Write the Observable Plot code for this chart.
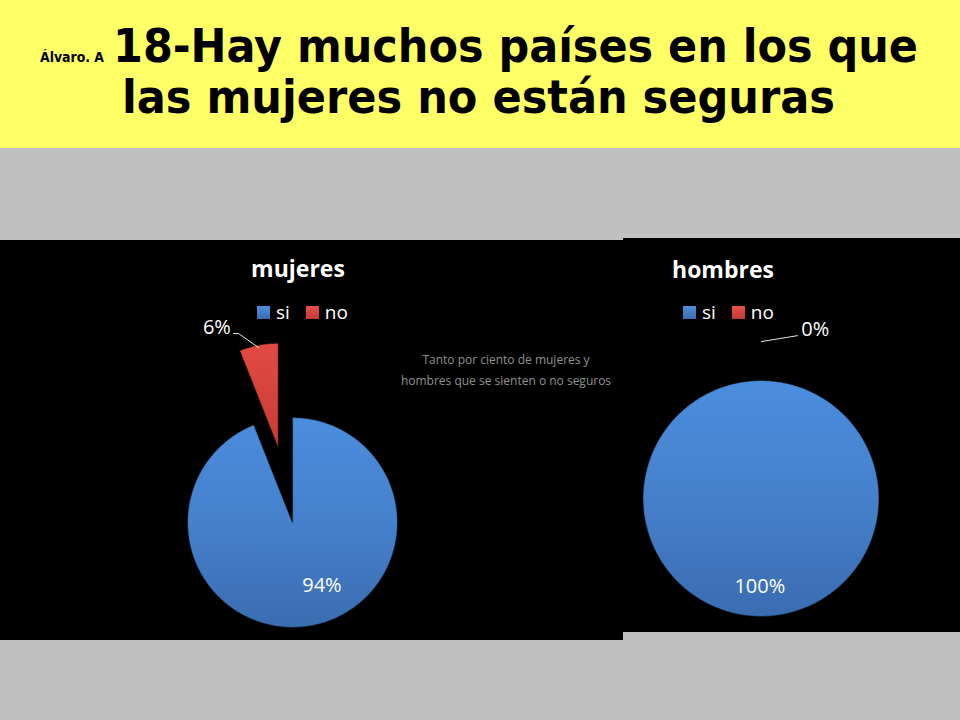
<!DOCTYPE html>
<html><head><meta charset="utf-8">
<script src="https://cdn.jsdelivr.net/npm/d3@7"></script>
<script src="https://cdn.jsdelivr.net/npm/@observablehq/plot@0.6"></script>
<style>
html,body{margin:0;padding:0;}
body{width:960px;height:720px;background:#c0c0c0;position:relative;overflow:hidden;font-family:"Open Sans",sans-serif;}
#header{position:absolute;left:0;top:0;width:960px;height:148px;background:#ffff66;}
.blk{position:absolute;background:#000;}
.abs{position:absolute;}
.ttl{position:absolute;color:#fff;font-weight:700;font-size:23px;transform:translateX(-50%);white-space:nowrap;line-height:1;}
.leg{position:absolute;color:#fff;font-size:19px;line-height:1;white-space:nowrap;display:flex;align-items:center;}
.sw{display:inline-block;width:13px;height:13px;margin-right:6px;}
.note{position:absolute;color:#909090;font-size:12px;font-weight:400;text-align:center;line-height:21px;white-space:nowrap;transform:translateX(-50%);}
</style></head>
<body>
<svg width="0" height="0" style="position:absolute">
  <defs>
    <linearGradient id="gBlue" x1="0" y1="0" x2="0" y2="1">
      <stop offset="0" stop-color="#4b8ddd"/>
      <stop offset="0.5" stop-color="#4680cc"/>
      <stop offset="1" stop-color="#3a6cb0"/>
    </linearGradient>
    <linearGradient id="gRed" x1="0" y1="0" x2="0" y2="1">
      <stop offset="0" stop-color="#e24a44"/>
      <stop offset="1" stop-color="#c83c37"/>
    </linearGradient>
  </defs>
</svg>
<div id="header">
  <svg width="960" height="148" style="font-family:'Liberation Sans Narrow','DejaVu Sans Condensed','Liberation Sans',sans-serif;font-weight:700">
    <text id="t0" x="40" y="62" font-size="14" textLength="64" lengthAdjust="spacingAndGlyphs" fill="#000"></text>
    <text id="t1" x="113" y="62" font-size="46" textLength="805" lengthAdjust="spacingAndGlyphs" fill="#000"></text>
    <text id="t2" x="122" y="113" font-size="46" textLength="713" lengthAdjust="spacingAndGlyphs" fill="#000"></text>
  </svg>
</div>
<div class="blk" style="left:0;top:240px;width:623px;height:400px"></div>
<div class="blk" style="left:623px;top:238px;width:337px;height:394px"></div>
<div id="left" class="abs" style="left:0;top:240px"></div>
<div id="right" class="abs" style="left:623px;top:238px"></div>
<div id="overlay"></div>
<script>
// ---- data ----
const author = "Álvaro. A";
const titleLines = ["18-Hay muchos países en los que", "las mujeres no están seguras"];
const categories = ["si", "no"];
const mujeres = [94, 6];
const hombres = [100, 0];
const chartTitles = ["mujeres", "hombres"];
const noteLines = ["Tanto por ciento de mujeres y", "hombres que se sienten o no seguros"];
const labelsMujeres = ["94%", "6%"];
const labelsHombres = ["100%", "0%"];

const fills = {si: "url(#gBlue)", no: "url(#gRed)"};
const swatch = {si: "linear-gradient(#4f8fdc,#3a6cb0)", no: "linear-gradient(#e8504a,#c23a35)"};

document.getElementById("t0").textContent = author;
document.getElementById("t1").textContent = titleLines[0];
document.getElementById("t2").textContent = titleLines[1];

function piePlot({values, labels, width, height, cx, cy, r, explode, labelPos, leader}) {
  const arcs = d3.pie().sort(null).value(d => d)(values);
  const marks = [];
  arcs.forEach((a, i) => {
    const span = a.endAngle - a.startAngle;
    if (span <= 0) return;
    const mid = (a.startAngle + a.endAngle) / 2;
    const ox = explode[i] * Math.sin(mid), oy = explode[i] * Math.cos(mid);
    const pts = [];
    const full = span >= 2 * Math.PI - 1e-9;
    if (!full) pts.push({x: ox, y: oy});
    const n = Math.max(4, Math.ceil(span / (Math.PI / 180)));
    for (let k = 0; k <= n; k++) {
      const t = a.startAngle + span * k / n;
      pts.push({x: ox + Math.sin(t), y: oy + Math.cos(t)});
    }
    marks.push(Plot.line(pts, {x: "x", y: "y", curve: "linear-closed", fill: fills[categories[i]], stroke: "rgba(0,0,0,0.45)", strokeWidth: 1.2}));
  });
  const lab = labels.map((t, i) => ({t, x: labelPos[i][0], y: labelPos[i][1]}));
  marks.push(Plot.line(leader, {x: d => d[0], y: d => d[1], stroke: "#e8e8e8", strokeWidth: 1}));
  marks.push(Plot.text(lab, {x: "x", y: "y", text: "t", fill: "#fff", fontSize: 20, fontFamily: "Open Sans, sans-serif"}));
  return Plot.plot({
    width, height, margin: 0,
    x: {domain: [-cx / r, (width - cx) / r], axis: null},
    y: {domain: [-(height - cy) / r, cy / r], axis: null},
    style: {background: "transparent", overflow: "visible"},
    marks
  });
}

document.getElementById("left").appendChild(piePlot({
  values: mujeres, labels: labelsMujeres, width: 623, height: 400, cx: 292, cy: 282, r: 105,
  explode: [0, 0.72],
  labelPos: [[0.28, -0.60], [-0.72, 1.86]],
  leader: [[-0.562, 1.80], [-0.514, 1.80], [-0.324, 1.667]]
}));
document.getElementById("right").appendChild(piePlot({
  values: hombres, labels: labelsHombres, width: 337, height: 394, cx: 137.5, cy: 260, r: 118,
  explode: [0, 0],
  labelPos: [[-0.01, -0.75], [0.46, 1.43]],
  leader: [[0.004, 1.33], [0.309, 1.38]]
}));

// titles, legends, note
const ov = document.getElementById("overlay");
function add(html, cls, style) { const d = document.createElement("div"); d.className = cls; d.style.cssText = style; d.innerHTML = html; ov.appendChild(d); return d; }
add(chartTitles[0], "ttl", "left:298px;top:257px;");
add(chartTitles[1], "ttl", "left:723px;top:258px;");
function legend(x, y) {
  const html = categories.map((c, i) => `<span class="sw" style="background:${swatch[c]}"></span><span style="margin-right:${i === 0 ? 16 : 0}px">${c}</span>`).join("");
  add(html, "leg", `left:${x}px;top:${y}px;`);
}
legend(257, 303);
legend(683, 303);
add(noteLines.join("<br>"), "note", "left:506px;top:349px;");
</script>
</body></html>
